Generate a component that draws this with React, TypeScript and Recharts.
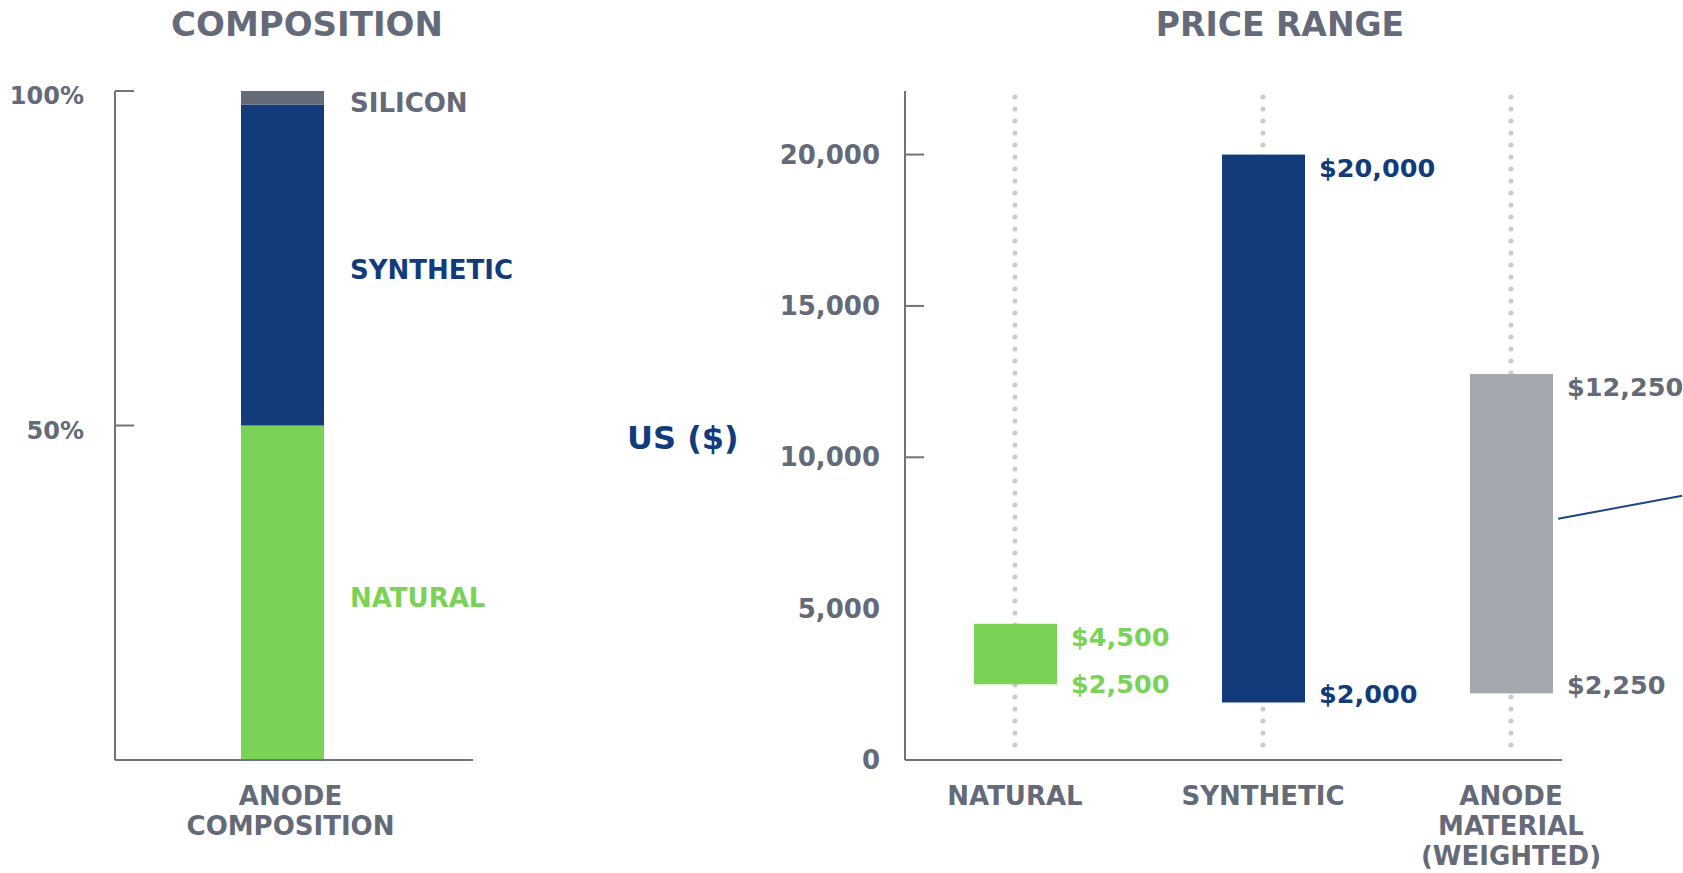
import React from 'react';
import { Bar, BarChart, LabelList, ReferenceLine, XAxis, YAxis } from 'recharts';

if (typeof document !== 'undefined') document.body.style.margin = '0';

const FONT = '"DejaVu Sans", sans-serif';
const GRAY_TEXT = '#646a78';
const NAVY = '#123b7b';
const GREEN = '#7ad256';
const SILICON_GRAY = '#656b79';
const ANODE_GRAY = '#a5a8af';
const DOT_GRAY = '#c9cacf';
const AXIS = '#6e7380';

// composition, % of anode
const COMP_CATEGORY = 'ANODE COMPOSITION';
const NATURAL_SHARE = 50;
const SYNTHETIC_SHARE = 48;
const SILICON_SHARE = 2;
const COMP_TICKS = [50, 100];

// price ranges, US$
const PRICE_CATEGORIES = [['NATURAL'], ['SYNTHETIC'], ['ANODE', 'MATERIAL', '(WEIGHTED)']];
const PRICE_LOW = [2500, 1900, 2200];
const PRICE_HIGH = [4500, 20000, 12750];
const LOW_LABELS = ['$2,500', '$2,000', '$2,250'];
const HIGH_LABELS = ['$4,500', '$20,000', '$12,250'];
const PRICE_TICKS = [0, 5000, 10000, 15000, 20000];
const PRICE_TICK_MARKS = [10000, 15000, 20000];
const PRICE_MAX = 22100;

const BAR_COLORS = [GREEN, NAVY, ANODE_GRAY];
const LABEL_COLORS = [GREEN, NAVY, GRAY_TEXT];

const compData = [
  { name: COMP_CATEGORY, natural: NATURAL_SHARE, synthetic: SYNTHETIC_SHARE, silicon: SILICON_SHARE },
];
const priceData = PRICE_LOW.map((low, i) => ({ x: i, range: [low, PRICE_HIGH[i]] }));

const COMP_SERIES = [
  { key: 'natural', label: 'NATURAL', color: GREEN, text: GREEN },
  { key: 'synthetic', label: 'SYNTHETIC', color: NAVY, text: NAVY },
  { key: 'silicon', label: 'SILICON', color: SILICON_GRAY, text: GRAY_TEXT },
];

const textStyle = { fontFamily: FONT, fontWeight: 700 };

function PctTick(props: any) {
  const { x, y, payload } = props;
  return (
    <g>
      <line x1={x} x2={x + 19} y1={y} y2={y} stroke={AXIS} strokeWidth={2} />
      <text x={x - 31} y={y + 5} textAnchor="end" dominantBaseline="central" fontSize={24} fill={GRAY_TEXT} style={textStyle}>
        {payload.value}%
      </text>
    </g>
  );
}

function PriceTick(props: any) {
  const { x, y, payload } = props;
  return (
    <g>
      {PRICE_TICK_MARKS.includes(payload.value) && (
        <line x1={x} x2={x + 19} y1={y} y2={y} stroke={AXIS} strokeWidth={2} />
      )}
      <text x={x - 25} y={y} textAnchor="end" dominantBaseline="central" fontSize={26} fill={GRAY_TEXT} style={textStyle}>
        {Number(payload.value).toLocaleString('en-US')}
      </text>
    </g>
  );
}

function MultiLineTick({ x, y, lines, dx = 0 }: { x: number; y: number; lines: string[]; dx?: number }) {
  return (
    <g>
      {lines.map((l, i) => (
        <text key={i} x={x + dx} y={y + 36 + i * 30} textAnchor="middle" dominantBaseline="central" fontSize={26} fill={GRAY_TEXT} style={textStyle}>
          {l}
        </text>
      ))}
    </g>
  );
}

function RangeBar(props: any) {
  const { x, y, width, height, index } = props;
  const tx = x + width + 14;
  return (
    <g>
      <rect x={x} y={y} width={width} height={height} fill={BAR_COLORS[index]} />
      <text x={tx} y={y + 13} dominantBaseline="central" fontSize={25.5} fill={LABEL_COLORS[index]} style={textStyle}>
        {HIGH_LABELS[index]}
      </text>
      <text x={tx} y={Math.max(y + height - 8, y + 60)} dominantBaseline="central" fontSize={25.5} fill={LABEL_COLORS[index]} style={textStyle}>
        {LOW_LABELS[index]}
      </text>
    </g>
  );
}

function Title({ children, cx, size }: { children: React.ReactNode; cx: number; size: number }) {
  return (
    <div
      style={{
        position: 'absolute',
        left: cx - 200,
        width: 400,
        top: 24 - size / 2,
        textAlign: 'center',
        fontSize: size,
        lineHeight: `${size}px`,
        color: GRAY_TEXT,
        whiteSpace: 'nowrap',
        ...textStyle,
      }}
    >
      {children}
    </div>
  );
}

export default function App() {
  return (
    <div style={{ position: 'relative', width: 1683, height: 873, background: '#fff', overflow: 'hidden' }}>
      <Title cx={307} size={34}>COMPOSITION</Title>
      <Title cx={1280} size={33}>PRICE RANGE</Title>

      <div style={{ position: 'absolute', left: 0, top: 0 }}>
        <BarChart width={560} height={873} data={compData} margin={{ top: 91, right: 87, bottom: 0, left: 0 }}>
          <XAxis
            dataKey="name"
            height={113}
            axisLine={{ stroke: AXIS, strokeWidth: 2 }}
            tickLine={false}
            tickSize={0}
            tickMargin={0}
            padding={{ left: 0, right: 23 }}
            tick={(p: any) => <MultiLineTick x={p.x} y={p.y} dx={8} lines={String(p.payload.value).split(' ')} />}
          />
          <YAxis
            type="number"
            domain={[0, 100]}
            ticks={COMP_TICKS}
            interval={0}
            width={115}
            axisLine={{ stroke: AXIS, strokeWidth: 2 }}
            tickLine={false}
            tickSize={0}
            tickMargin={0}
            tick={(p: any) => <PctTick {...p} />}
          />
          {COMP_SERIES.map((s) => (
            <Bar key={s.key} dataKey={s.key} stackId="comp" fill={s.color} barSize={83} isAnimationActive={false}>
              <LabelList
                dataKey={s.key}
                content={(p: any) => (
                  <text
                    x={Number(p.x) + Number(p.width) + 26}
                    y={Number(p.y) + Number(p.height) / 2 + 5}
                    dominantBaseline="central"
                    fontSize={26}
                    fill={s.text}
                    style={textStyle}
                  >
                    {s.label}
                  </text>
                )}
              />
            </Bar>
          ))}
        </BarChart>
      </div>

      <div style={{ position: 'absolute', left: 560, top: 0 }}>
        <BarChart width={1123} height={873} data={priceData} margin={{ top: 91, right: 121, bottom: 0, left: 0 }}>
          <XAxis
            dataKey="x"
            type="number"
            domain={[-0.4435, 2.2056]}
            ticks={[0, 1, 2]}
            interval={0}
            height={113}
            axisLine={{ stroke: AXIS, strokeWidth: 2 }}
            tickLine={false}
            tickSize={0}
            tickMargin={0}
            tick={(p: any) => <MultiLineTick x={p.x} y={p.y} lines={PRICE_CATEGORIES[p.payload.value] || []} />}
          />
          <YAxis
            type="number"
            domain={[0, PRICE_MAX]}
            ticks={PRICE_TICKS}
            interval={0}
            width={345}
            axisLine={{ stroke: AXIS, strokeWidth: 2 }}
            tickLine={false}
            tickSize={0}
            tickMargin={0}
            tick={(p: any) => <PriceTick {...p} />}
            label={{
              value: 'US ($)',
              content: (p: any) => (
                <text
                  x={p.viewBox.x + 67}
                  y={p.viewBox.y + p.viewBox.height / 2 + 12}
                  dominantBaseline="central"
                  fontSize={32}
                  fill={NAVY}
                  style={textStyle}
                >
                  US ($)
                </text>
              ),
            }}
          />
          {PRICE_LOW.map((_, i) => (
            <ReferenceLine
              key={i}
              segment={[{ x: i, y: 21900 }, { x: i, y: 200 }]}
              stroke={DOT_GRAY}
              strokeWidth={5}
              strokeDasharray="0 12"
              strokeLinecap="round"
              zIndex={-5}
            />
          ))}
          <ReferenceLine
            segment={[{ x: 2.19, y: 7970 }, { x: 2.69, y: 8730 }]}
            ifOverflow="visible"
            stroke="#1d4687"
            strokeWidth={2}
          />
          <Bar dataKey="range" barSize={83} shape={(p: any) => <RangeBar {...p} />} isAnimationActive={false} />
        </BarChart>
      </div>
    </div>
  );
}
